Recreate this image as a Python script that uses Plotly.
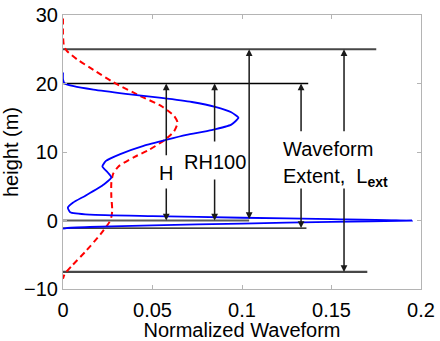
import plotly.graph_objects as go

# Received waveform (normalized) versus height
wave_height = [21.6, 20.6, 20.0, 19.6, 19.1, 18.5, 17.9, 17.3, 16.6, 15.8, 15.0, 14.0, 13.2,
               12.5, 11.8, 10.9, 9.7, 8.7, 7.9, 7.0, 6.3, 5.3, 3.7, 2.6, 1.9, 1.2, 0.85,
               0.65, 0.4, 0.2, 0.0, -0.2, -0.45, -0.7, -0.95, -1.1, -1.2]
wave_value = [0.0, 0.0, 0.001, 0.006, 0.017, 0.035, 0.055, 0.072, 0.085, 0.094, 0.098, 0.094, 0.083,
              0.069, 0.058, 0.045, 0.032, 0.024, 0.022, 0.025, 0.027, 0.023, 0.013, 0.0055, 0.0027, 0.004, 0.015,
              0.05, 0.1, 0.15, 0.195, 0.15, 0.1, 0.05, 0.015, 0.002, 0.0]

# Broadened (convolved) waveform, dashed
broad_height = [29.5, 27.0, 25.5, 24.8, 23.5, 22.0, 20.2, 18.2, 16.7, 15.3, 14.3, 13.0, 11.8,
                10.3, 9.3, 7.9, 6.8, 5.5, 3.5, 1.5, 0.5, -0.2, -2.0, -4.4, -6.6, -7.8, -8.5]
broad_value = [0.0, 0.0, 0.0005, 0.002, 0.008, 0.017, 0.028, 0.043, 0.055, 0.062, 0.064, 0.062, 0.057,
               0.048, 0.040, 0.031, 0.028, 0.027, 0.027, 0.0275, 0.027, 0.026, 0.021, 0.013, 0.005, 0.001, 0.0]

# Reference levels: height, extent along x, colour, width
level_height = [25.0, 20.0, 0.0, -1.1, -7.5]
level_extent = [0.175, 0.137, 0.104, 0.136, 0.170]
level_color = ["#474747", "#000000", "#5a5a5a", "#000000", "#474747"]
level_width = [2.2, 1.3, 2.2, 1.3, 2.2]

# Measurement arrows: x position, top, bottom, gap (top tail, bottom tail) around label
arrow_x = [0.0577, 0.0847, 0.104, 0.133, 0.157]
arrow_top = [20.0, 20.0, 25.0, 20.0, 25.0]
arrow_bottom = [0.0, 0.0, 0.0, -1.1, -7.5]
gap_top = [9.3, 11.3, None, 12.8, 12.8]
gap_bottom = [4.9, 6.2, None, 4.9, 4.9]

labels = ["H", "RH100", "Waveform", "Extent,  L<sub><b>ext</b></sub>"]
label_x = [0.0577, 0.0847, 0.148, 0.152]
label_y = [6.9, 8.6, 10.5, 6.3]

x_ticks = [0, 0.05, 0.1, 0.15, 0.2]
x_tick_text = ["0", "0.05", "0.1", "0.15", "0.2"]
y_ticks = [-10, 0, 10, 20, 30]

FONT = "Liberation Sans, Arial, sans-serif"
FS = 20

fig = go.Figure()

for h, e, c, w in zip(level_height, level_extent, level_color, level_width):
    fig.add_trace(go.Scatter(x=[0, e], y=[h, h], mode="lines",
                             line=dict(color=c, width=w), hoverinfo="skip"))

fig.add_trace(go.Scatter(x=broad_value, y=broad_height, mode="lines",
                         line=dict(color="#ff0000", width=2, dash="6px,4px", shape="spline", smoothing=0.6)))
fig.add_trace(go.Scatter(x=wave_value, y=wave_height, mode="lines",
                         line=dict(color="#0000ff", width=1.8, shape="spline", smoothing=0.5)))

annotations = []
arrow_style = dict(xref="x", yref="y", axref="x", ayref="y", text="", showarrow=True,
                   arrowhead=2, arrowsize=0.9, arrowwidth=1.5, arrowcolor="#1a1a1a")
for x, top, bot, gt, gb in zip(arrow_x, arrow_top, arrow_bottom, gap_top, gap_bottom):
    if gt is None:
        annotations.append(dict(x=x, y=top, ax=x, ay=bot, arrowside="end+start", **arrow_style))
    else:
        annotations.append(dict(x=x, y=top, ax=x, ay=gt, **arrow_style))
        annotations.append(dict(x=x, y=bot, ax=x, ay=gb, **arrow_style))

for t, x, y in zip(labels, label_x, label_y):
    annotations.append(dict(x=x, y=y, xref="x", yref="y", text=t, showarrow=False,
                            font=dict(family=FONT, size=FS, color="#000000")))

axis_common = dict(showline=True, linecolor="#b4b4b4", linewidth=1.2, mirror="ticks",
                   ticks="inside", ticklen=4, tickcolor="#b4b4b4", showgrid=False, zeroline=False,
                   automargin=False,
                   tickfont=dict(family=FONT, size=FS, color="#000000"))

fig.update_layout(
    width=440, height=341,
    margin=dict(l=63, r=19, t=15, b=52),
    paper_bgcolor="white", plot_bgcolor="white",
    showlegend=False,
    annotations=annotations,
    xaxis=dict(range=[0, 0.2], tickvals=x_ticks, ticktext=x_tick_text, ticklabelstandoff=3,
               title=dict(text="Normalized Waveform", standoff=0,
                          font=dict(family=FONT, size=FS, color="#000000")),
               **axis_common),
    yaxis=dict(range=[-10, 30], tickvals=y_ticks,
               title=dict(text="height (m)", standoff=0,
                          font=dict(family=FONT, size=FS, color="#000000")),
               **axis_common),
)

fig.write_html("out.html")
